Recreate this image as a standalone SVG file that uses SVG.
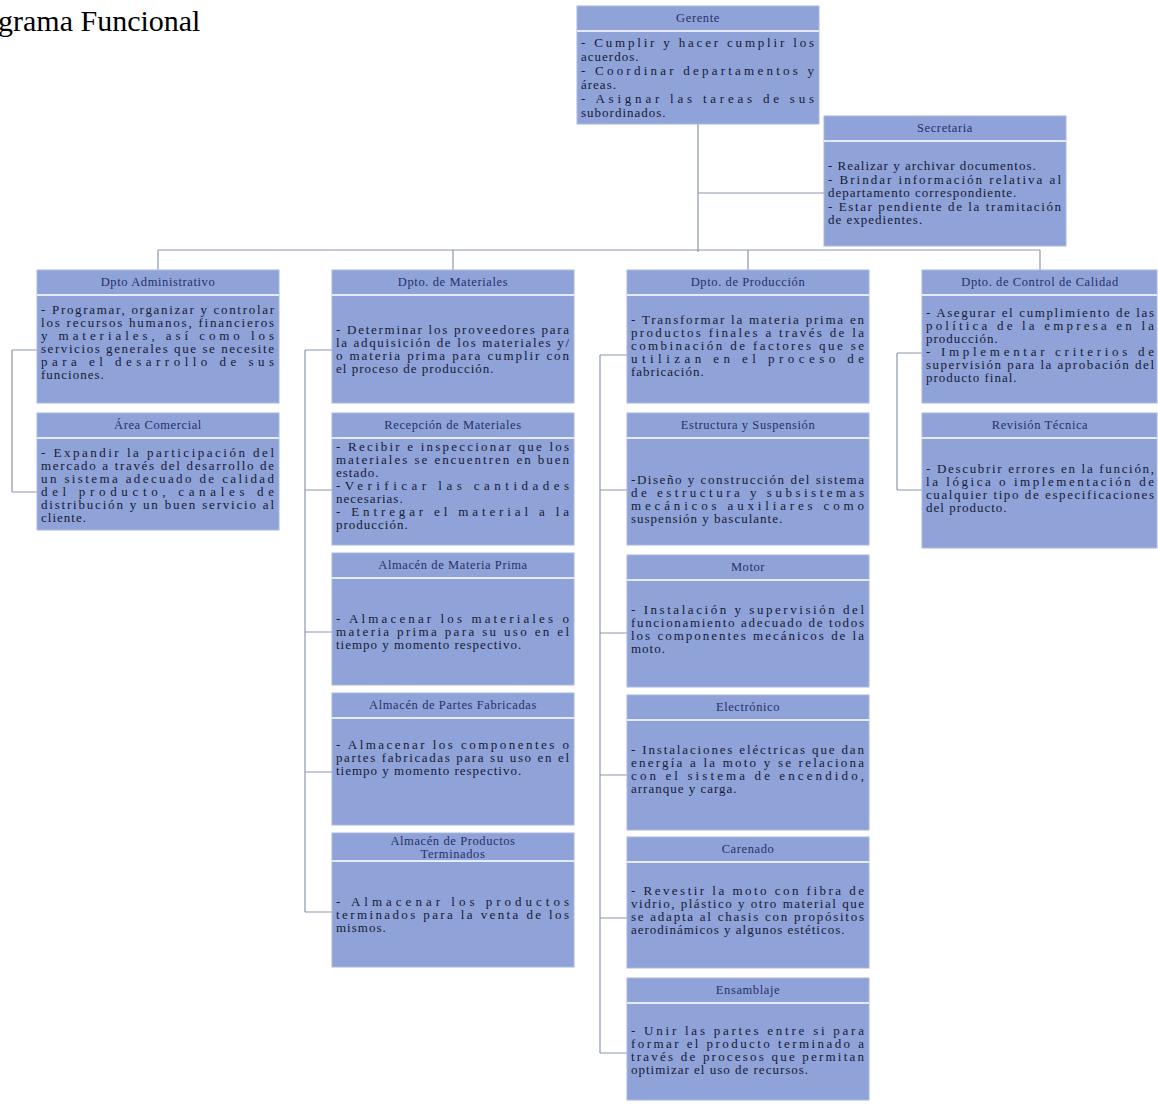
<svg xmlns="http://www.w3.org/2000/svg" width="1158" height="1107" viewBox="0 0 1158 1107">
<style>
.box{fill:#8fa3d8;stroke:#a9b8e2;stroke-width:1}
.sep{stroke:#e4eaf7;stroke-width:2}
.h{font-family:"Liberation Serif",serif;font-size:12.5px;fill:#26306b;text-anchor:middle;letter-spacing:0.6px}
.t{font-family:"Liberation Serif",serif;font-size:13px;fill:#161a36;letter-spacing:1px}
.c{fill:none;stroke:#8c97ad;stroke-width:1.2}
.title{font-family:"Liberation Serif",serif;font-size:30px;fill:#000}
</style>
<rect x="0" y="0" width="1158" height="1107" fill="#ffffff"/>
<text class="title" x="-2" y="31">grama Funcional</text>

<g id="connectors">
<path class="c" d="M698,124 V252 M698,193 H824 M158,250 H1040 M158,250 V270 M453,250 V270 M748,250 V270 M1040,250 V270"/>
<path class="c" d="M12,350 V492 M12,350 H37 M12,492 H37"/>
<path class="c" d="M305,350 V912 M305,350 H332 M305,490 H332 M305,632 H332 M305,772 H332 M305,912 H332"/>
<path class="c" d="M600,355 V1053 M600,355 H627 M600,490 H627 M600,633 H627 M600,775 H627 M600,918 H627 M600,1053 H627"/>
<path class="c" d="M897,353 V490 M897,353 H922 M897,490 H922"/>
</g>

<g id="gerente">
<rect class="box" x="577" y="6" width="242" height="118"/>
<line class="sep" x1="577" y1="31" x2="819" y2="31"/>
<text class="h" x="698" y="22">Gerente</text>
<text class="t" x="581" y="47" textLength="234" lengthAdjust="spacing">- Cumplir y hacer cumplir los</text>
<text class="t" x="581" y="61">acuerdos.</text>
<text class="t" x="581" y="75" textLength="234" lengthAdjust="spacing">- Coordinar departamentos y</text>
<text class="t" x="581" y="89">áreas.</text>
<text class="t" x="581" y="103" textLength="234" lengthAdjust="spacing">- Asignar las tareas de sus</text>
<text class="t" x="581" y="117">subordinados.</text>
</g>

<g id="secretaria">
<rect class="box" x="824" y="116" width="242" height="130"/>
<line class="sep" x1="824" y1="141" x2="1066" y2="141"/>
<text class="h" x="945" y="132">Secretaria</text>
<text class="t" x="828" y="170">- Realizar y archivar documentos.</text>
<text class="t" x="828" y="183.5" textLength="234" lengthAdjust="spacing">- Brindar información relativa al</text>
<text class="t" x="828" y="197">departamento correspondiente.</text>
<text class="t" x="828" y="210.5" textLength="234" lengthAdjust="spacing">- Estar pendiente de la tramitación</text>
<text class="t" x="828" y="224">de expedientes.</text>
</g>

<g id="dpto-administrativo">
<rect class="box" x="37" y="270" width="242" height="133"/>
<line class="sep" x1="37" y1="295" x2="279" y2="295"/>
<text class="h" x="158" y="286">Dpto Administrativo</text>
<text class="t" x="41" y="314" textLength="234" lengthAdjust="spacing">- Programar, organizar y controlar</text>
<text class="t" x="41" y="327" textLength="234" lengthAdjust="spacing">los recursos humanos, financieros</text>
<text class="t" x="41" y="340" textLength="234" lengthAdjust="spacing">y materiales, así como los</text>
<text class="t" x="41" y="353" textLength="234" lengthAdjust="spacing">servicios generales que se necesite</text>
<text class="t" x="41" y="366" textLength="234" lengthAdjust="spacing">para el desarrollo de sus</text>
<text class="t" x="41" y="379">funciones.</text>
</g>

<g id="area-comercial">
<rect class="box" x="37" y="413" width="242" height="117"/>
<line class="sep" x1="37" y1="438" x2="279" y2="438"/>
<text class="h" x="158" y="429">Área Comercial</text>
<text class="t" x="41" y="457" textLength="234" lengthAdjust="spacing">- Expandir la participación del</text>
<text class="t" x="41" y="470" textLength="234" lengthAdjust="spacing">mercado a través del desarrollo de</text>
<text class="t" x="41" y="483" textLength="234" lengthAdjust="spacing">un sistema adecuado de calidad</text>
<text class="t" x="41" y="496" textLength="234" lengthAdjust="spacing">del producto, canales de</text>
<text class="t" x="41" y="509" textLength="234" lengthAdjust="spacing">distribución y un buen servicio al</text>
<text class="t" x="41" y="522">cliente.</text>
</g>

<g id="dpto-materiales">
<rect class="box" x="332" y="270" width="242" height="133"/>
<line class="sep" x1="332" y1="295" x2="574" y2="295"/>
<text class="h" x="453" y="286">Dpto. de Materiales</text>
<text class="t" x="336" y="334" textLength="234" lengthAdjust="spacing">- Determinar los proveedores para</text>
<text class="t" x="336" y="347" textLength="234" lengthAdjust="spacing">la adquisición de los materiales y/</text>
<text class="t" x="336" y="360" textLength="234" lengthAdjust="spacing">o materia prima para cumplir con</text>
<text class="t" x="336" y="373">el proceso de producción.</text>
</g>

<g id="recepcion-materiales">
<rect class="box" x="332" y="413" width="242" height="132"/>
<line class="sep" x1="332" y1="438" x2="574" y2="438"/>
<text class="h" x="453" y="429">Recepción de Materiales</text>
<text class="t" x="336" y="451" textLength="234" lengthAdjust="spacing">- Recibir e inspeccionar que los</text>
<text class="t" x="336" y="464" textLength="234" lengthAdjust="spacing">materiales se encuentren en buen</text>
<text class="t" x="336" y="477">estado.</text>
<text class="t" x="336" y="490" textLength="234" lengthAdjust="spacing">-Verificar las cantidades</text>
<text class="t" x="336" y="503">necesarias.</text>
<text class="t" x="336" y="516" textLength="234" lengthAdjust="spacing">- Entregar el material a la</text>
<text class="t" x="336" y="529">producción.</text>
</g>

<g id="almacen-materia-prima">
<rect class="box" x="332" y="553" width="242" height="132"/>
<line class="sep" x1="332" y1="578" x2="574" y2="578"/>
<text class="h" x="453" y="569">Almacén de Materia Prima</text>
<text class="t" x="336" y="623" textLength="234" lengthAdjust="spacing">- Almacenar los materiales o</text>
<text class="t" x="336" y="636" textLength="234" lengthAdjust="spacing">materia prima para su uso en el</text>
<text class="t" x="336" y="649">tiempo y momento respectivo.</text>
</g>

<g id="almacen-partes-fabricadas">
<rect class="box" x="332" y="693" width="242" height="132"/>
<line class="sep" x1="332" y1="718" x2="574" y2="718"/>
<text class="h" x="453" y="709">Almacén de Partes Fabricadas</text>
<text class="t" x="336" y="749" textLength="234" lengthAdjust="spacing">- Almacenar los componentes o</text>
<text class="t" x="336" y="762" textLength="234" lengthAdjust="spacing">partes fabricadas para su uso en el</text>
<text class="t" x="336" y="775">tiempo y momento respectivo.</text>
</g>

<g id="almacen-productos-terminados">
<rect class="box" x="332" y="833" width="242" height="134"/>
<line class="sep" x1="332" y1="861" x2="574" y2="861"/>
<text class="h" x="453" y="845">Almacén de Productos</text>
<text class="h" x="453" y="857.5">Terminados</text>
<text class="t" x="336" y="906" textLength="234" lengthAdjust="spacing">- Almacenar los productos</text>
<text class="t" x="336" y="919" textLength="234" lengthAdjust="spacing">terminados para la venta de los</text>
<text class="t" x="336" y="932">mismos.</text>
</g>

<g id="dpto-produccion">
<rect class="box" x="627" y="270" width="242" height="133"/>
<line class="sep" x1="627" y1="295" x2="869" y2="295"/>
<text class="h" x="748" y="286">Dpto. de Producción</text>
<text class="t" x="631" y="324" textLength="234" lengthAdjust="spacing">- Transformar la materia prima en</text>
<text class="t" x="631" y="337" textLength="234" lengthAdjust="spacing">productos finales a través de la</text>
<text class="t" x="631" y="350" textLength="234" lengthAdjust="spacing">combinación de factores que se</text>
<text class="t" x="631" y="363" textLength="234" lengthAdjust="spacing">utilizan en el proceso de</text>
<text class="t" x="631" y="376">fabricación.</text>
</g>

<g id="estructura-suspension">
<rect class="box" x="627" y="413" width="242" height="132"/>
<line class="sep" x1="627" y1="438" x2="869" y2="438"/>
<text class="h" x="748" y="429">Estructura y Suspensión</text>
<text class="t" x="631" y="484" textLength="234" lengthAdjust="spacing">-Diseño y construcción del sistema</text>
<text class="t" x="631" y="497" textLength="234" lengthAdjust="spacing">de estructura y subsistemas</text>
<text class="t" x="631" y="510" textLength="234" lengthAdjust="spacing">mecánicos auxiliares como</text>
<text class="t" x="631" y="523">suspensión y basculante.</text>
</g>

<g id="motor">
<rect class="box" x="627" y="555" width="242" height="132"/>
<line class="sep" x1="627" y1="580" x2="869" y2="580"/>
<text class="h" x="748" y="571">Motor</text>
<text class="t" x="631" y="614" textLength="234" lengthAdjust="spacing">- Instalación y supervisión del</text>
<text class="t" x="631" y="627" textLength="234" lengthAdjust="spacing">funcionamiento adecuado de todos</text>
<text class="t" x="631" y="640" textLength="234" lengthAdjust="spacing">los componentes mecánicos de la</text>
<text class="t" x="631" y="653">moto.</text>
</g>

<g id="electronico">
<rect class="box" x="627" y="695" width="242" height="135"/>
<line class="sep" x1="627" y1="720" x2="869" y2="720"/>
<text class="h" x="748" y="711">Electrónico</text>
<text class="t" x="631" y="754" textLength="234" lengthAdjust="spacing">- Instalaciones eléctricas que dan</text>
<text class="t" x="631" y="767" textLength="234" lengthAdjust="spacing">energía a la moto y  se relaciona</text>
<text class="t" x="631" y="780" textLength="234" lengthAdjust="spacing">con el sistema de encendido,</text>
<text class="t" x="631" y="793">arranque y carga.</text>
</g>

<g id="carenado">
<rect class="box" x="627" y="837" width="242" height="131"/>
<line class="sep" x1="627" y1="862" x2="869" y2="862"/>
<text class="h" x="748" y="853">Carenado</text>
<text class="t" x="631" y="895" textLength="234" lengthAdjust="spacing">- Revestir la moto con fibra de</text>
<text class="t" x="631" y="908" textLength="234" lengthAdjust="spacing">vidrio, plástico y otro material que</text>
<text class="t" x="631" y="921" textLength="234" lengthAdjust="spacing">se adapta al chasis con propósitos</text>
<text class="t" x="631" y="934">aerodinámicos y algunos estéticos.</text>
</g>

<g id="ensamblaje">
<rect class="box" x="627" y="978" width="242" height="122"/>
<line class="sep" x1="627" y1="1003" x2="869" y2="1003"/>
<text class="h" x="748" y="994">Ensamblaje</text>
<text class="t" x="631" y="1035" textLength="234" lengthAdjust="spacing">- Unir las partes entre si para</text>
<text class="t" x="631" y="1048" textLength="234" lengthAdjust="spacing">formar el producto terminado a</text>
<text class="t" x="631" y="1061" textLength="234" lengthAdjust="spacing">través de procesos que permitan</text>
<text class="t" x="631" y="1074">optimizar el uso de recursos.</text>
</g>

<g id="dpto-control-calidad">
<rect class="box" x="922" y="270" width="235" height="133"/>
<line class="sep" x1="922" y1="295" x2="1157" y2="295"/>
<text class="h" x="1040" y="286">Dpto. de Control de Calidad</text>
<text class="t" x="926" y="317" textLength="229" lengthAdjust="spacing">- Asegurar el cumplimiento de las</text>
<text class="t" x="926" y="330" textLength="229" lengthAdjust="spacing">política de la empresa en la</text>
<text class="t" x="926" y="343">producción.</text>
<text class="t" x="926" y="356" textLength="229" lengthAdjust="spacing">- Implementar criterios de</text>
<text class="t" x="926" y="369" textLength="229" lengthAdjust="spacing">supervisión para la aprobación del</text>
<text class="t" x="926" y="382">producto final.</text>
</g>

<g id="revision-tecnica">
<rect class="box" x="922" y="413" width="235" height="135"/>
<line class="sep" x1="922" y1="438" x2="1157" y2="438"/>
<text class="h" x="1040" y="429">Revisión Técnica</text>
<text class="t" x="926" y="473" textLength="229" lengthAdjust="spacing">- Descubrir errores en la función,</text>
<text class="t" x="926" y="486" textLength="229" lengthAdjust="spacing">la lógica o implementación de</text>
<text class="t" x="926" y="499" textLength="229" lengthAdjust="spacing">cualquier tipo de especificaciones</text>
<text class="t" x="926" y="512">del producto.</text>
</g>
</svg>
